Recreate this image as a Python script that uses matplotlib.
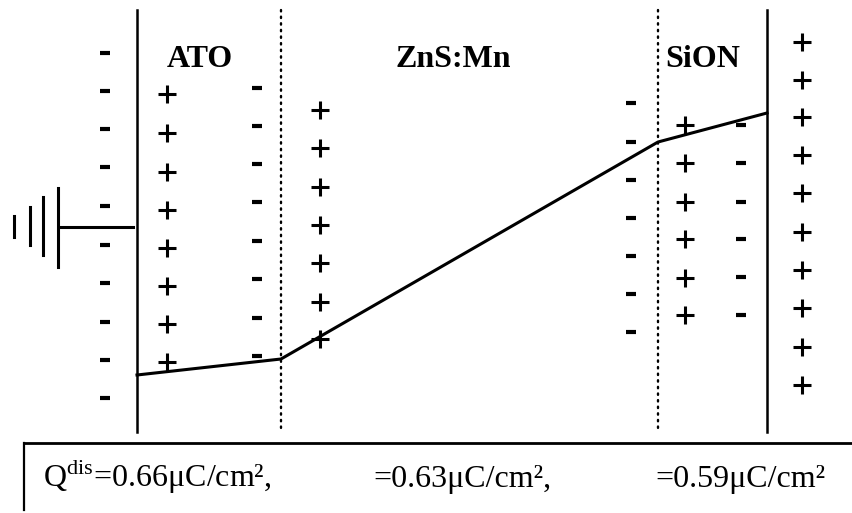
import numpy as np
import matplotlib
matplotlib.use("Agg")
import matplotlib.pyplot as plt

plt.rcParams["font.family"] = ["Liberation Serif", "DejaVu Serif"]
plt.rcParams["mathtext.fontset"] = "custom"
plt.rcParams["mathtext.rm"] = "Liberation Serif"

# layer boundaries (electrodes solid, internal interfaces dotted)
electrode_x = [137, 767]
interface_x = [281, 658]
layer_names = ["ATO", "ZnS:Mn", "SiON"]
layer_label_x = [200, 453, 703]

# potential profile across the stack
profile_x = [137, 281, 658, 767]
profile_y = [375, 359, 142, 113]

# charge columns: x position, y positions
minus_cols = [
    (105, [53, 91, 129, 167, 206, 245, 283, 322, 360, 398]),
    (257, [88, 126, 164, 202, 241, 279, 318, 356]),
    (631, [103, 142, 180, 218, 256, 294, 332]),
    (741, [125, 163, 202, 239, 277, 315]),
]
plus_cols = [
    (167, [94, 133, 172, 210, 248, 286, 324, 362]),
    (320, [110, 148, 187, 225, 263, 302, 339]),
    (685, [125, 163, 202, 239, 278, 315]),
    (802, [42, 80, 117, 155, 193, 232, 270, 308, 347, 385]),
]

charge_text = [r"Q$^{\rm dis}$=0.66μC/cm²,", "=0.63μC/cm²,", "=0.59μC/cm²"]
charge_text_x = [43, 373, 655]

fig = plt.figure(figsize=(8.52, 5.13), dpi=100)
ax = fig.add_axes([0, 0, 1, 1])
ax.set_xlim(0, 852)
ax.set_ylim(513, 0)
ax.axis("off")

for x in electrode_x:
    ax.plot([x, x], [10, 432], color="black", lw=1.8)
for x in interface_x:
    ax.plot([x, x], [10, 430], color="black", lw=1.7,
            linestyle=(0, (0.6, 2.2)), dash_capstyle="round")

ax.plot(profile_x, profile_y, color="black", lw=2.2, solid_joinstyle="round")

# ground symbol on the left electrode
ax.plot([60, 133], [227, 227], color="black", lw=2.2)
for gx, y0, y1 in [(58, 188, 267), (43, 197, 255), (30, 207, 245), (14, 216, 237)]:
    ax.plot([gx, gx], [y0, y1], color="black", lw=2.2)

for x, ys in minus_cols:
    ax.plot([x] * len(ys), ys, linestyle="none", marker="_",
            markersize=7, markeredgewidth=3.0, color="black")
for x, ys in plus_cols:
    ax.plot([x] * len(ys), ys, linestyle="none", marker="+",
            markersize=13, markeredgewidth=2.2, color="black")

for name, x in zip(layer_names, layer_label_x):
    ax.text(x, 67, name, ha="center", va="baseline", fontsize=23,
            fontweight="bold")

# charge box below the stack
ax.plot([24, 852], [443, 443], color="black", lw=2.0)
ax.plot([24, 24], [443, 510], color="black", lw=1.6)
for s, x in zip(charge_text, charge_text_x):
    ax.text(x, 487, s, ha="left", va="baseline", fontsize=23)

fig.savefig("out.png", dpi=100)
